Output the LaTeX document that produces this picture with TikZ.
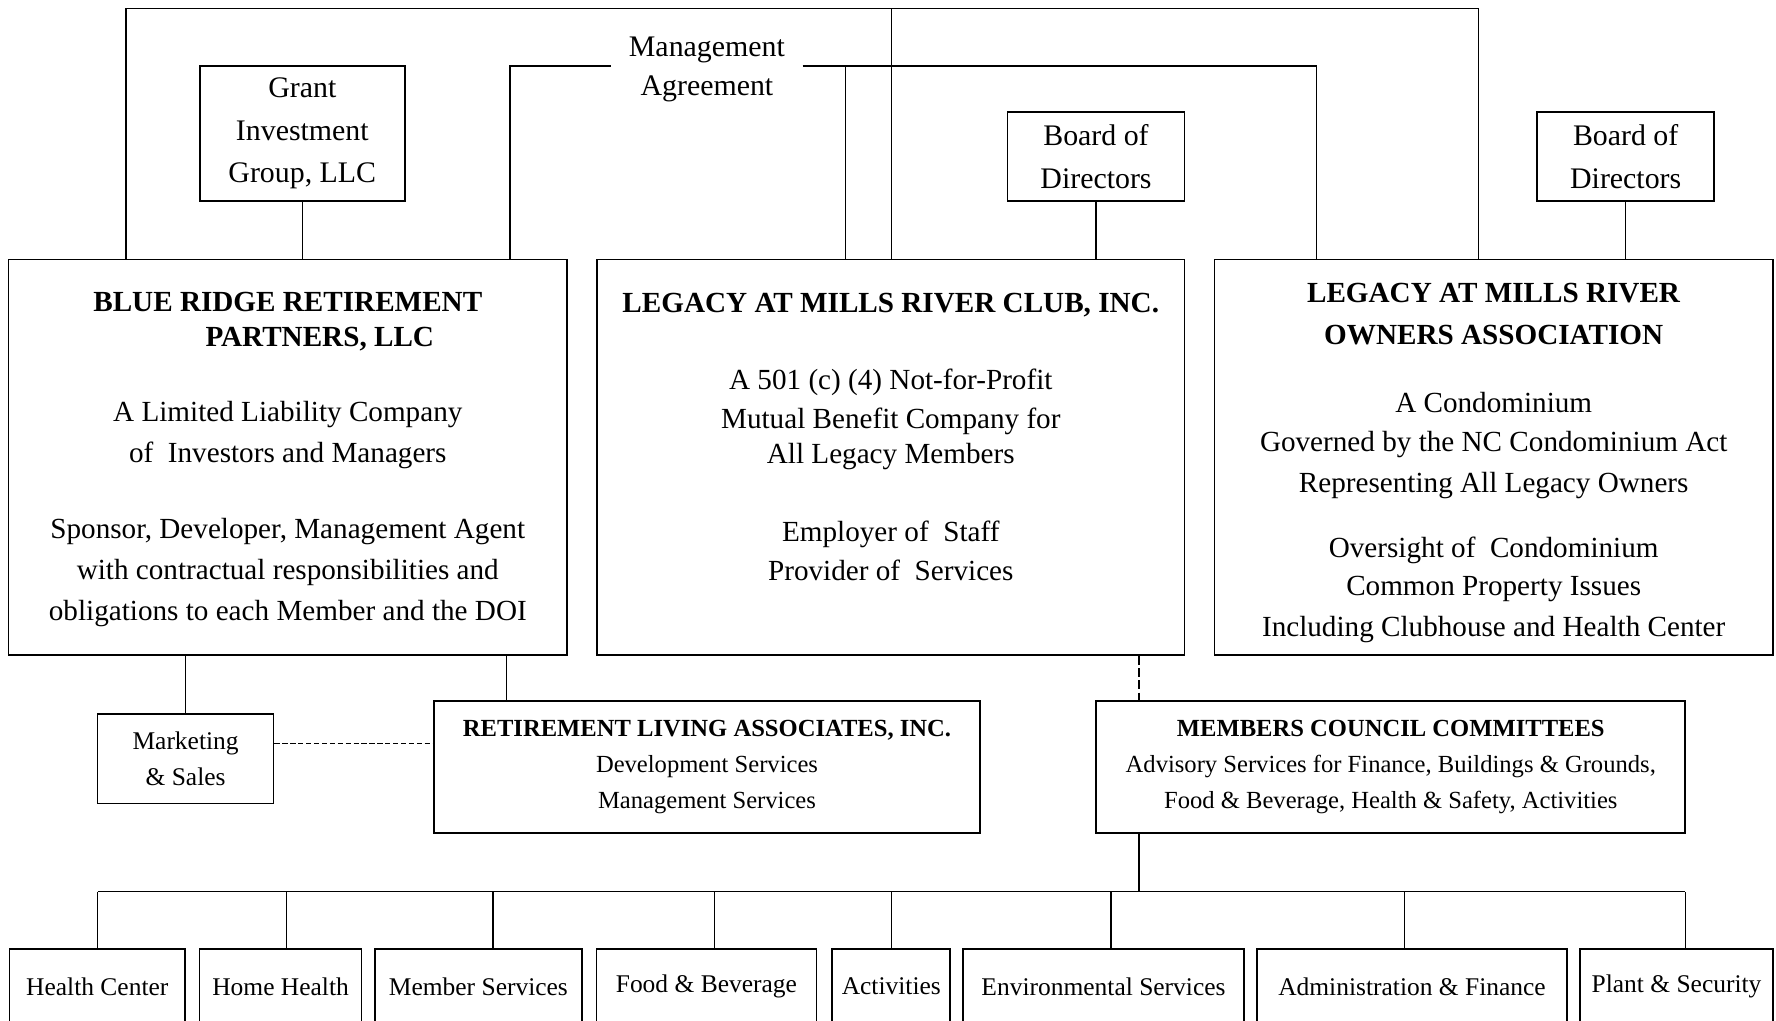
\documentclass[tikz,border=0pt]{standalone}
\usepackage{fontspec}
\setmainfont{Liberation Serif}
\newcommand{\bigtext}{\fontsize{16.6}{23.4}\selectfont}
\newcommand{\midtext}{\fontsize{17}{24.4}\selectfont}
\newcommand{\smalltext}{\fontsize{14}{20.3}\selectfont}
\newcommand{\unittext}{\fontsize{14.5}{20.4}\selectfont}
\tikzset{
  box/.style={draw, line width=1pt, inner sep=0pt, align=center},
  link/.style={line width=0.8pt},
  dashlink/.style={line width=0.8pt, dash pattern=on 3pt off 1.5pt},
  longdash/.style={line width=0.8pt, dash pattern=on 5pt off 2pt},
  unit/.style={box, font=\unittext, minimum height=1.5cm},
}
\begin{document}
\begin{tikzpicture}[x=0.02cm, y=-0.02cm]
    \useasboundingbox (0,0) rectangle (1776,1021);
    \coordinate (rail) at (0,8.3); % top rail
    \coordinate (marail) at (0,66); % management agreement rail
    \coordinate (bus) at (0,891.7); % bus to the departments

    % Top row: investors, agreement, boards
    \node[box, font=\midtext, minimum width=4.1cm, minimum height=2.69cm] (grant) at (302.3,133.4) {Grant\\Investment\\Group, LLC};
    \node[font=\fontsize{17}{22.2}\selectfont, align=center, inner sep=0pt, minimum width=3.82cm] (ma) at (706.9,69.5) {Management\\Agreement};
    \node[box, font=\midtext, minimum width=3.54cm, minimum height=1.77cm] (bod1) at (1096,156.4) {Board of\\Directors};
    \node[box, font=\midtext, minimum width=3.54cm, minimum height=1.77cm] (bod2) at (1625.7,156.4) {Board of\\Directors};

    % Main entities
    \node[box, font=\bigtext, minimum width=11.17cm, minimum height=7.91cm] (br) at (287.8,457.2)
        {\mbox{}\\[-0.34cm]\textbf{BLUE RIDGE RETIREMENT}\\[-0.12cm]\hspace*{1.28cm}\textbf{PARTNERS, LLC}\\[0.68cm]A Limited Liability Company\\of~ Investors and Managers\\[0.7cm]Sponsor, Developer, Management Agent\\with contractual responsibilities and\\obligations to each Member and the DOI};
    \node[box, font=\bigtext, minimum width=11.75cm, minimum height=7.91cm] (club) at (890.8,457.2)
        {\textbf{LEGACY AT MILLS RIVER CLUB, INC.}\\[0.72cm]A 501 (c) (4) Not-for-Profit\\[-0.04cm]Mutual Benefit Company for\\[-0.12cm]All Legacy Members\\[0.74cm]Employer of~ Staff\\[-0.04cm]Provider of~ Services\\\mbox{}};
    \node[box, font=\bigtext, minimum width=11.17cm, minimum height=7.91cm] (oa) at (1493.7,457.2)
        {\mbox{}\\[-0.19cm]\textbf{LEGACY AT MILLS RIVER}\\\textbf{OWNERS ASSOCIATION}\\[0.54cm]A Condominium\\[-0.04cm]Governed by the NC Condominium Act\\Representing All Legacy Owners\\[0.48cm]Oversight of~ Condominium\\[-0.06cm]Common Property Issues\\Including Clubhouse and Health Center};

    % Second row
    \node[box, font=\unittext, minimum width=3.52cm, minimum height=1.79cm] (mkt) at (185.6,758.7) {Marketing\\\& Sales};
    \node[box, font=\smalltext, minimum width=10.93cm, minimum height=2.63cm] (rla) at (707,766.9)
        {\textbf{RETIREMENT LIVING ASSOCIATES, INC.}\\Development Services\\Management Services};
    \node[box, font=\smalltext, minimum width=11.78cm, minimum height=2.63cm] (mcc) at (1390.8,766.9)
        {\textbf{MEMBERS COUNCIL COMMITTEES}\\Advisory Services for Finance, Buildings \& Grounds,\\Food \& Beverage, Health \& Safety, Activities};

    % Upper connectors
    \draw[link] (grant.south) -- (grant.south |- br.north);
    \draw[link] (bod1.south) -- (bod1.south |- club.north);
    \draw[link] (bod2.south) -- (bod2.south |- oa.north);
    \draw[link] (126,0 |- br.north) |- (1478.3,0 |- rail) -- (1478.3,0 |- oa.north);
    \draw[link] (891.4,0 |- rail) -- (891.4,0 |- club.north);
    \draw[link] (510,0 |- br.north) |- (ma.west |- marail);
    \draw[link] (ma.east |- marail) -| (1316.6,0 |- oa.north);
    \draw[link] (845.5,0 |- marail) -- (845.5,0 |- club.north);

    % Lower connectors
    \draw[link] (mkt.north |- br.south) -- (mkt.north);
    \draw[link] (506.4,0 |- br.south) -- (506.4,0 |- rla.north);
    \draw[dashlink] (mkt.east |- 0,743.3) -- (rla.west |- 0,743.3);
    \draw[longdash] (1138.9,0 |- club.south) -- (1138.9,0 |- mcc.north);
    \draw[link] (1138.9,0 |- mcc.south) -- (1138.9,0 |- bus);

    % Departments
    \foreach \name/\x/\dx/\w/\label in {hc/97.3/97.6/3.51/Health Center, hh/280.6/286.4/3.24/Home Health,
        ms/478.4/493/4.13/Member Services, fb/706.4/714.3/4.40/Food \& Beverage, act/891.3/891.6/2.36/Activities,
        env/1103.5/1111/5.62/Environmental Services, af/1412/1404.4/6.20/Administration \& Finance,
        ps/1676.5/1685.2/3.86/Plant \& Security} {
        \node[unit, minimum width=\w cm] (\name) at (\x,986.5) {\label};
        \draw[link] (\dx,0 |- \name.north) -- (\dx,0 |- bus); % drop
    }
    \draw[link] (97.6,0 |- bus) -- (1685.2,0 |- bus);
\end{tikzpicture}
\end{document}
